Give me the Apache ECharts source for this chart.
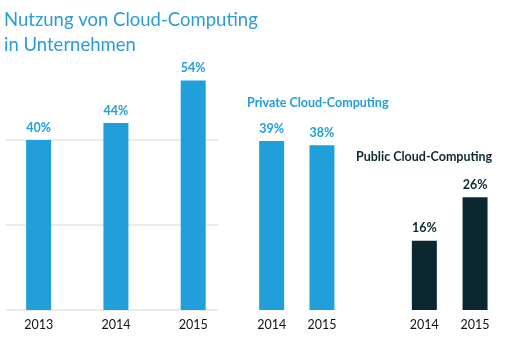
<!DOCTYPE html>
<html>
<head>
<meta charset="utf-8">
<script src="https://cdn.jsdelivr.net/npm/echarts@6/dist/echarts.min.js"></script>
<style>html,body{margin:0;padding:0;background:#fff}#c{width:510px;height:346px}</style>
</head>
<body>
<div id="c"></div>
<script>
var totalYears = ['2013', '2014', '2015'];
var totalValues = [40, 44, 54];
var privateYears = ['2014', '2015'];
var privateValues = [39, 38];
var publicYears = ['2014', '2015'];
var publicValues = [16, 26];
var yTicks = [0, 20, 40, 60];

var BLUE = '#209fdb';
var DARK = '#0b2831';
var FONT = 'Lato';

var chart = echarts.init(document.getElementById('c'), null, {renderer: 'canvas'});

function catAxis(idx, data) {
  return {
    type: 'category', gridIndex: idx, data: data,
    axisLine: {show: false}, axisTick: {show: false},
    axisLabel: {color: '#111', fontFamily: FONT, fontSize: 12.5, margin: 8}
  };
}
function hiddenY(idx, max) {
  return {type: 'value', gridIndex: idx, min: 0, max: max, show: false};
}
function barSeries(idx, data, color) {
  return {
    type: 'bar', xAxisIndex: idx, yAxisIndex: idx, data: data, barWidth: 25,
    itemStyle: {color: color},
    label: {show: true, position: 'top', distance: 6, color: color, fontFamily: FONT,
      fontWeight: 'bold', fontSize: 12.5, formatter: '{c}%'},
    silent: true
  };
}

chart.setOption({
  animation: false,
  title: [
    {text: 'Nutzung von Cloud-Computing\nin Unternehmen', left: -1, top: 3,
     textStyle: {color: '#2a9cd7', fontFamily: FONT, fontSize: 18.5, fontWeight: 'normal', lineHeight: 25}},
    {text: 'Private Cloud-Computing', left: 242, top: 91,
     textStyle: {color: BLUE, fontFamily: FONT, fontSize: 12.5, fontWeight: 'bold'}},
    {text: 'Public Cloud-Computing', left: 351, top: 145,
     textStyle: {color: DARK, fontFamily: FONT, fontSize: 12.5, fontWeight: 'bold'}}
  ],
  grid: [
    {left: 6, width: 212, top: 55, bottom: 36},
    {left: -3.15, width: 235, top: 55, bottom: 36},
    {left: 246.5, width: 100.6, top: 50, bottom: 36},
    {left: 399, width: 101.4, top: 50, bottom: 36}
  ],
  xAxis: [
    {type: 'value', gridIndex: 0, min: 0, max: 1, show: false},
    catAxis(1, totalYears),
    catAxis(2, privateYears),
    catAxis(3, publicYears)
  ],
  yAxis: [
    {type: 'value', gridIndex: 0, min: yTicks[0], max: yTicks[yTicks.length - 1], interval: yTicks[1] - yTicks[0],
     axisLine: {show: false}, axisTick: {show: false}, axisLabel: {show: false},
     splitLine: {show: true, lineStyle: {color: ['#e4e4e4', '#e4e4e4', '#e4e4e4', 'rgba(0,0,0,0)'], width: 1.5}}},
    hiddenY(1, 60),
    hiddenY(2, 60),
    hiddenY(3, 60)
  ],
  series: [
    barSeries(1, totalValues, BLUE),
    barSeries(2, privateValues, BLUE),
    barSeries(3, publicValues, DARK)
  ]
});
</script>
</body>
</html>
